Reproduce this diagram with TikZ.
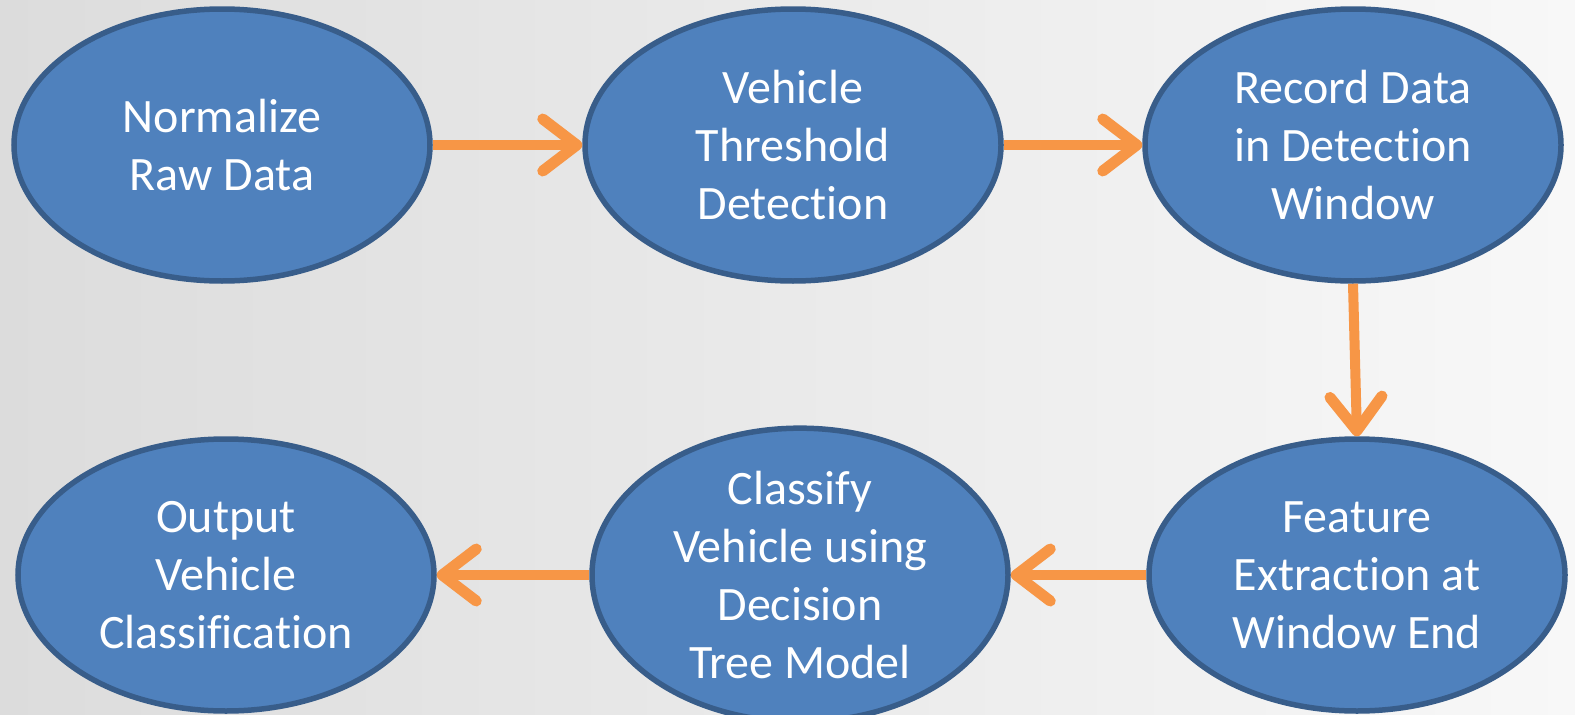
\documentclass[tikz,border=0pt]{standalone}
\usepackage{fontspec}
\setmainfont[Ligatures=NoCommon]{Carlito}
\usetikzlibrary{shapes.geometric,arrows.meta}
\definecolor{stepfill}{HTML}{4F81BD}
\definecolor{stepline}{HTML}{385D8A}
\definecolor{flow}{HTML}{F79646}
\definecolor{bgleft}{HTML}{DCDCDC}
\definecolor{bgright}{HTML}{F8F8F8}
\tikzset{
  stage/.style={ellipse, fill=stepfill, draw=stepline, line width=5.5pt,
    minimum width=416pt, minimum height=272pt, inner sep=0pt,
    text=white, align=center, font=\fontsize{48}{58}\selectfont},
  flowarrow/.style={draw=flow, line width=10pt,
    -{Straight Barb[length=34pt,width=52pt,line width=11pt,round]}}
}
\begin{document}
\begin{tikzpicture}[x=1pt,y=-1pt]
  % backdrop
  \shade[left color=bgleft, right color=bgright] (0,0) rectangle (1575,715);
  \useasboundingbox (0,0) rectangle (1575,715);

  % process stages
  \node[stage] (norm)    at (222,145) {Normalize\\Raw Data};
  \node[stage] (thresh)  at (793,145) {Vehicle\\Threshold\\Detection};
  \node[stage] (record)  at (1353,145) {Record Data\\in Detection\\Window};
  \node[stage] (feature) at (1357,575) {Feature\\Extraction at\\Window End};
  \node[stage] (classify) at (800,575) {Classify\\Vehicle using\\Decision\\Tree Model};
  \node[stage] (output)  at (226,575) {Output\\Vehicle\\Classification};

  % flow between stages
  \draw[flowarrow] (norm.east) -- (thresh.west);
  \draw[flowarrow] (thresh.east) -- (record.west);
  \draw[flowarrow] (record.south) -- (feature.north);
  \draw[flowarrow] (feature.west) -- (classify.east);
  \draw[flowarrow] (classify.west) -- (output.east);
\end{tikzpicture}
\end{document}
